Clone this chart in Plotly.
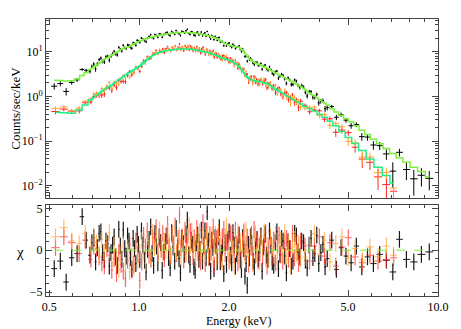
import numpy as np
import plotly.graph_objects as go
from plotly.subplots import make_subplots

# pn (black) spectrum: bin centres (keV), model (cts/s/keV), rel. error (%), chi residual
pn_e = [0.52, 0.545, 0.57, 0.595, 0.62, 0.645, 0.665, 0.685, 0.695, 0.705,
        0.715, 0.725, 0.735, 0.745, 0.755, 0.765, 0.775, 0.785, 0.795, 0.805,
        0.815, 0.825, 0.835, 0.845, 0.855, 0.865, 0.875, 0.885, 0.895, 0.905,
        0.915, 0.925, 0.935, 0.945, 0.955, 0.965, 0.975, 0.985, 0.995, 1.005,
        1.018, 1.03, 1.043, 1.055, 1.068, 1.08, 1.093, 1.105, 1.118, 1.13,
        1.143, 1.155, 1.168, 1.18, 1.195, 1.21, 1.225, 1.24, 1.255, 1.27,
        1.285, 1.30, 1.315, 1.33, 1.345, 1.36, 1.375, 1.39, 1.405, 1.42,
        1.435, 1.45, 1.465, 1.48, 1.495, 1.51, 1.525, 1.54, 1.555, 1.57,
        1.585, 1.60, 1.615, 1.63, 1.645, 1.66, 1.675, 1.69, 1.705, 1.72,
        1.735, 1.75, 1.765, 1.78, 1.795, 1.81, 1.825, 1.84, 1.855, 1.87,
        1.885, 1.90, 1.92, 1.94, 1.96, 1.98, 2.00, 2.02, 2.04, 2.06,
        2.08, 2.10, 2.12, 2.14, 2.16, 2.18, 2.20, 2.22, 2.24, 2.26,
        2.28, 2.30, 2.32, 2.34, 2.36, 2.38, 2.405, 2.43, 2.455, 2.48,
        2.505, 2.53, 2.555, 2.58, 2.61, 2.64, 2.67, 2.70, 2.73, 2.76,
        2.79, 2.82, 2.855, 2.89, 2.925, 2.96, 2.995, 3.03, 3.07, 3.11,
        3.15, 3.19, 3.23, 3.27, 3.315, 3.36, 3.405, 3.45, 3.50, 3.55,
        3.60, 3.65, 3.705, 3.76, 3.815, 3.87, 3.93, 3.99, 4.055, 4.12,
        4.19, 4.26, 4.41, 4.57, 4.74, 4.92, 5.12, 5.33, 5.56, 5.81,
        6.08, 6.38, 6.72, 7.06, 7.43, 7.84, 8.30, 8.80, 9.35]
pn_model = [2.30, 2.26, 2.22, 2.25, 2.45, 2.95, 3.45, 3.95, 4.25, 4.55,
            4.85, 5.2, 5.55, 5.9, 6.3, 6.7, 7.05, 7.4, 7.8, 8.2,
            8.6, 9.0, 9.5, 10.0, 10.45, 10.9, 11.35, 11.8, 12.1, 12.4,
            12.7, 13.0, 13.5, 14.0, 14.5, 15.0, 15.6, 16.2, 16.75, 17.3,
            17.9, 18.5, 19.0, 19.5, 20.0, 20.5, 20.9, 21.3, 21.7, 22.1,
            22.5, 22.9, 23.25, 23.6, 24.0, 24.4, 24.75, 25.1, 25.35, 25.6,
            25.8, 26.0, 26.2, 26.4, 26.5, 26.6, 26.7, 26.8, 26.85, 26.9,
            26.9, 26.9, 26.8, 26.7, 26.55, 26.4, 26.2, 26.0, 25.75, 25.5,
            25.25, 25.0, 24.7, 24.4, 24.05, 23.7, 23.4, 23.1, 22.8, 22.5,
            22.15, 21.8, 21.4, 21.0, 20.5, 20.0, 19.5, 19.0, 18.4, 17.8,
            17.2, 16.6, 15.9, 15.3, 14.8, 14.4, 14.1, 13.8, 13.55, 13.3,
            13.15, 13.0, 12.85, 12.7, 12.4, 12.0, 11.4, 10.8, 10.1, 9.4,
            8.7, 8.0, 7.5, 7.0, 6.6, 6.3, 6.05, 5.8, 5.6, 5.4,
            5.25, 5.1, 4.97, 4.85, 4.67, 4.5, 4.32, 4.15, 3.97, 3.8,
            3.65, 3.5, 3.35, 3.2, 3.07, 2.95, 2.85, 2.75, 2.62, 2.5,
            2.4, 2.3, 2.2, 2.1, 2.0, 1.9, 1.8, 1.7, 1.6, 1.5,
            1.4, 1.3, 1.21, 1.12, 1.06, 1.0, 0.93, 0.87, 0.81, 0.75,
            0.69, 0.64, 0.53, 0.45, 0.38, 0.32, 0.27, 0.22, 0.175, 0.14,
            0.11, 0.087, 0.068, 0.053, 0.042, 0.034, 0.026, 0.021, 0.016]
pn_err = [12, 11, 11, 10, 10, 9, 9, 11, 11, 11,
          11, 10, 10, 10, 9.5, 9.5, 9, 9, 9, 8.5,
          8.5, 8.5, 8, 8, 8, 7.5, 7.5, 7.5, 7, 7,
          7, 7, 7, 6.5, 6.5, 6.5, 6.5, 6, 6, 6,
          6, 5.5, 5.5, 5.5, 5.5, 5.5, 5.5, 5, 5, 5,
          5, 5, 5, 5, 5, 5, 5, 5, 5, 5,
          5, 5, 5, 5, 5, 5, 5, 5, 5, 5,
          5, 5, 5, 5, 5, 5, 5, 5, 5, 5,
          5, 5, 5, 5, 5, 5, 5, 5, 5, 5,
          5, 5, 5, 5, 5, 5, 5, 5, 5, 5,
          5, 5, 5, 5, 5, 5, 5, 5, 5, 5,
          5, 5, 5, 5, 5, 5, 5, 5, 5, 5.5,
          5.5, 5.5, 5.5, 6, 6, 6, 6, 6, 6, 6,
          6, 6, 6, 6.5, 6.5, 6.5, 6.5, 6.5, 7, 7,
          7, 7, 7, 7, 7.5, 7.5, 7.5, 7.5, 8, 8,
          8, 8, 8.5, 8.5, 8.5, 9, 9, 9, 9.5, 9.5,
          9.5, 10, 10, 10, 10.5, 10.5, 11, 11, 11.5, 11.5,
          11.5, 12, 10, 10.5, 11, 11.5, 12, 13, 14, 15,
          16, 18, 20, 23, 26, 29, 32, 36, 42]
pn_chi = [-2.2, -1.3, -3.8, -0.9, -0.4, 4.0, 1.2, -0.6, 0.9, 1.5,
          -1.4, 0.3, 2.0, 2.2, -0.3, -1.2, 1.1, 0.8, -1.9, -0.3,
          0.6, 1.6, -0.8, -1.8, 2.5, 0.5, -1.1, 2.4, 0.2, -0.7,
          1.7, 1.1, -0.9, -2.3, 1.4, 0.2, -1.6, 1.9, 0.7, -1.1,
          2.3, 0.6, -1.2, -2.6, 0.1, 1.3, 2.8, -0.4, -1.8, 2.0,
          0.5, -1.5, 1.6, 0.9, -2.4, -0.2, 1.0, 1.7, -0.9, -2.1,
          2.1, 0.4, -1.3, 2.6, 0.3, -1.0, -2.7, 1.4, 0.8, -0.5,
          1.9, 3.6, -0.6, -1.7, 1.2, 0.7, -2.0, -2.4, 0.9, 1.8,
          -1.1, 0.1, 2.4, -1.3, 0.6, 2.3, -0.9, 4.6, 1.1, -0.8,
          -2.5, 1.2, 0.3, -2.2, 1.5, 0.5, -1.4, 1.6, 2.7, -1.4,
          -0.3, 0.3, -2.8, 0.9, -1.7, 1.0, 2.2, -0.6, -1.5, 2.1,
          0.6, -1.9, -0.4, 0.4, 1.8, -1.2, -2.3, 1.5, 0.2, -3.1,
          -1.6, -4.2, 0.7, -0.9, 1.6, 0.8, -1.3, -2.0, 0.5, 1.3,
          -1.0, -0.3, 1.7, -2.5, 0.4, 1.9, -0.6, -1.1, 2.3, 0.6,
          -1.4, -1.8, 0.9, 2.2, -2.2, -0.5, 1.4, 1.1, -0.7, -2.7,
          1.0, 0.2, -1.9, -1.3, 2.0, 1.7, -0.2, -0.8, 1.1, 0.9,
          -1.2, -2.1, 0.6, 1.4, -0.9, -0.4, 1.8, -1.6, -0.3, 0.7,
          -2.0, -1.0, 1.2, -2.3, 0.3, -0.7, -1.5, 0.5, -2.0, -0.8,
          -1.6, -0.5, -1.2, -2.6, 1.3, -1.1, -1.4, -0.5, -0.2]

# MOS1 (red) and MOS2 (orange) spectra share one grid and model
mos_e = [0.525, 0.56, 0.595, 0.63, 0.66, 0.69, 0.705, 0.72, 0.735, 0.75,
         0.765, 0.78, 0.795, 0.81, 0.825, 0.84, 0.855, 0.87, 0.885, 0.90,
         0.915, 0.93, 0.945, 0.96, 0.975, 0.99, 1.005, 1.02, 1.035, 1.05,
         1.065, 1.08, 1.095, 1.11, 1.125, 1.14, 1.155, 1.17, 1.185, 1.20,
         1.215, 1.23, 1.245, 1.26, 1.275, 1.29, 1.305, 1.32, 1.335, 1.35,
         1.365, 1.38, 1.395, 1.41, 1.425, 1.44, 1.455, 1.47, 1.485, 1.50,
         1.515, 1.53, 1.545, 1.56, 1.575, 1.59, 1.605, 1.62, 1.635, 1.65,
         1.665, 1.68, 1.695, 1.71, 1.725, 1.74, 1.755, 1.77, 1.785, 1.80,
         1.815, 1.83, 1.845, 1.86, 1.88, 1.90, 1.92, 1.94, 1.96, 1.98,
         2.00, 2.02, 2.04, 2.06, 2.08, 2.10, 2.12, 2.14, 2.16, 2.18,
         2.20, 2.22, 2.24, 2.26, 2.28, 2.30, 2.325, 2.35, 2.375, 2.40,
         2.425, 2.45, 2.475, 2.50, 2.53, 2.56, 2.59, 2.62, 2.65, 2.68,
         2.715, 2.75, 2.785, 2.82, 2.86, 2.90, 2.94, 2.98, 3.025, 3.07,
         3.115, 3.16, 3.21, 3.26, 3.31, 3.36, 3.415, 3.47, 3.59, 3.72,
         3.86, 4.01, 4.17, 4.35, 4.55, 4.77, 5.01, 5.28, 5.58, 5.92,
         6.30, 6.72, 7.10]
mos_model = [0.44, 0.43, 0.42, 0.50, 0.64, 0.84, 0.94, 1.05, 1.17, 1.30,
             1.42, 1.55, 1.67, 1.80, 1.97, 2.15, 2.35, 2.55, 2.77, 3.0,
             3.22, 3.45, 3.7, 3.95, 4.22, 4.5, 4.85, 5.2, 5.65, 6.1,
             6.7, 7.3, 7.75, 8.2, 8.6, 9.0, 9.3, 9.6, 9.85, 10.1,
             10.3, 10.5, 10.65, 10.8, 10.9, 11.0, 11.1, 11.2, 11.3, 11.4,
             11.45, 11.5, 11.55, 11.6, 11.6, 11.6, 11.55, 11.5, 11.4, 11.3,
             11.2, 11.1, 11.0, 10.9, 10.75, 10.6, 10.45, 10.3, 10.15, 10.0,
             9.85, 9.7, 9.55, 9.4, 9.25, 9.1, 8.95, 8.8, 8.6, 8.4,
             8.2, 8.0, 7.8, 7.6, 7.4, 7.2, 7.05, 6.9, 6.75, 6.6,
             6.45, 6.3, 6.1, 5.9, 5.65, 5.4, 5.15, 4.9, 4.6, 4.3,
             4.0, 3.7, 3.4, 3.1, 2.9, 2.7, 2.55, 2.4, 2.35, 2.3,
             2.26, 2.22, 2.18, 2.15, 2.12, 2.1, 2.06, 2.02, 1.97, 1.93,
             1.84, 1.75, 1.65, 1.55, 1.46, 1.38, 1.3, 1.23, 1.16, 1.10,
             1.04, 0.98, 0.92, 0.87, 0.82, 0.77, 0.72, 0.68, 0.60, 0.53,
             0.47, 0.40, 0.34, 0.28, 0.22, 0.165, 0.12, 0.088, 0.062, 0.040,
             0.026, 0.017, 0.0115]
mos_err = [14, 13, 13, 12, 11, 10, 13, 12.5, 12, 11.5,
           11, 10.5, 10.5, 10, 9.5, 9.5, 9, 9, 8.5, 8.5,
           8, 8, 8, 7.5, 7.5, 7.5, 7, 7, 7, 7,
           7, 7, 7, 7, 7, 7, 7, 7, 7, 7,
           7, 7, 7, 7, 7, 7, 7, 7, 7, 7,
           7, 7, 7, 7, 7, 7, 7, 7, 7, 7,
           7, 7, 7, 7, 7, 7, 7, 7, 7, 7,
           7, 7, 7, 7, 7, 7, 7, 7, 7, 7,
           7, 7, 7, 7, 7, 7, 7, 7, 7, 7,
           7, 7, 7, 7.5, 7.5, 7.5, 7.5, 8, 8, 8.5,
           8.5, 9, 9, 9.5, 9.5, 9.5, 9.5, 9.5, 9.5, 9.5,
           9.5, 9.5, 9.5, 9.5, 9.5, 9.5, 9.5, 10, 10, 10,
           10, 10.5, 10.5, 10.5, 11, 11, 11, 11.5, 11.5, 12,
           12, 12, 12.5, 12.5, 13, 13, 13.5, 13.5, 10.5, 11,
           11.5, 12, 13, 14, 15, 17, 19, 21, 24, 27,
           30, 34, 38]
mos1_chi = [0.3, 1.6, 0.9, -0.4, 1.2, -1.1, 0.5, 0.2, -0.8, -1.5,
            -1.9, 0.2, -0.6, -2.4, -1.0, -2.8, -0.3, -1.7, -2.5, -3.4,
            -1.2, 0.6, -2.2, -1.7, 1.1, -0.5, -3.6, -1.4, 1.8, 0.4,
            2.3, -0.6, -1.1, 1.5, 0.9, 2.7, -0.2, 1.3, 0.1, 2.0,
            -1.0, 1.7, 3.1, 0.5, -0.7, 1.9, 0.8, 2.9, -0.4, 1.4,
            4.2, 0.3, 1.6, -1.2, 2.4, 0.6, 1.8, -0.5, 2.2, 0.9,
            -0.8, 1.5, 0.2, 2.6, -0.3, 1.0, -1.4, 1.7, 3.3, 0.4,
            -1.6, 2.3, 0.7, -0.9, 1.9, -0.2, 1.2, 2.8, -1.8, 0.8,
            1.4, -0.7, 2.1, 0.5, -1.1, 1.6, 2.5, -0.4, 0.9, 1.3,
            -1.3, 2.0, 0.1, 1.1, -0.6, 2.4, 0.7, -1.5, 1.8, 0.3,
            -0.9, 1.2, 2.2, -0.2, 0.6, 1.6, -1.7, 0.4, 1.9, -0.5,
            2.5, -0.6, 1.1, -1.3, 0.5, 1.6, -0.7, 0.9, 2.1, -1.9,
            0.4, 1.5, -0.8, 1.2, -1.5, 0.6, 1.8, -0.6, -1.3, 0.9,
            1.4, -1.1, 0.2, 2.0, -0.9, 0.7, -1.6, 1.1, 0.5, -1.3,
            0.5, 1.6, -0.7, 0.9, -1.9, 0.4, 1.5, -0.8, -1.5, -0.6,
            -1.3, -1.1, -0.9]
mos2_chi = [1.6, 2.7, 1.1, 0.8, 2.0, 0.4, 1.7, 0.9, -0.5, 1.3,
            -0.2, 0.9, 2.1, -1.5, 0.6, -0.9, -2.3, -0.4, 0.7, -1.8,
            0.3, -2.6, -0.7, -2.1, 0.8, -1.3, -0.3, 1.2, -0.1, -1.6,
            1.6, 0.5, -0.9, 2.1, 0.3, 1.4, -0.6, 2.4, 0.7, -0.3,
            1.1, 0.0, 2.2, 1.0, -0.5, 1.8, 0.4, 2.6, -0.2, 0.9,
            1.7, -0.9, 1.3, 0.2, 2.0, -0.4, 1.4, 3.0, 0.6, 2.3,
            -0.1, 0.8, -1.1, 1.6, 0.5, 2.2, 0.0, -0.9, 1.8, 0.6,
            -0.4, 1.5, 2.3, -0.6, 1.0, -0.3, 1.7, -1.2, 0.6, 1.9,
            -0.8, 0.7, 2.0, -0.5, 1.2, -1.4, 0.8, 1.6, 2.9, -0.3,
            0.5, -1.0, 1.9, 0.2, -2.0, 1.3, 0.4, 2.1, -0.7, 1.0,
            -1.2, 0.6, 1.7, -0.5, 2.4, 0.1, -0.8, 1.5, 0.3, -1.6,
            1.1, 2.0, -0.4, 0.8, -1.3, 1.4, 0.2, 2.2, -0.9, 0.6,
            -1.1, 1.6, 0.3, -0.6, 1.9, -1.4, 0.7, 1.2, -0.5, 2.1,
            -0.7, 0.9, -1.8, 0.4, 1.3, -0.4, 0.8, -1.0, -0.8, 0.7,
            2.0, -0.5, 1.2, -1.4, 0.8, 1.6, -0.9, 0.2, -1.2, 0.4,
            -0.8, 0.5, -0.6]

x_ticks = [0.5, 1.0, 2.0, 5.0, 10.0]
x_ticktext = ["0.5", "1.0", "2.0", "5.0", "10.0"]
x_minor = [0.6, 0.7, 0.8, 0.9, 1.2, 1.4, 1.6, 1.8, 3, 4, 6, 7, 8, 9]
y_ticks = [0.01, 0.1, 1, 10]
y_ticktext = ["10<sup>\u22122</sup>", "10<sup>\u22121</sup>", "10<sup>0</sup>", "10<sup>1</sup>"]
y_minor = [m * d for d in (0.001, 0.01, 0.1, 1, 10) for m in range(2, 10)]

BLACK = "#000000"
RED = "#ff2424"
ORANGE = "#ffa030"
PN_MODEL = "#7cf03c"
MOS_MODEL = "#22ee88"
FRAME = "#444444"
SERIF = "Liberation Serif, Times New Roman, Times, serif"


def half_widths(e):
    e = np.asarray(e, dtype=float)
    mid = np.sqrt(e[:-1] * e[1:])
    lo = np.concatenate([[e[0] ** 2 / mid[0]], mid])
    hi = np.concatenate([mid, [e[-1] ** 2 / mid[-1]]])
    return e - lo, hi - e


fig = make_subplots(rows=2, cols=1, shared_xaxes=True)


def add_spectrum(e, model, err, chi, color, res_opacity):
    n = min(len(e), len(model), len(err), len(chi))
    e = np.asarray(e[:n], dtype=float)
    model = np.asarray(model[:n], dtype=float)
    sig = model * np.asarray(err[:n], dtype=float) / 100.0
    chi = np.asarray(chi[:n], dtype=float)
    rate = model + chi * sig
    lo, hi = half_widths(e)
    fig.add_trace(go.Scatter(
        x=e, y=rate, mode="markers", marker=dict(size=1, color=color),
        error_y=dict(type="data", array=sig, thickness=1, width=0, color=color),
        error_x=dict(type="data", symmetric=False, array=hi, arrayminus=lo,
                     thickness=1, width=0, color=color)), row=1, col=1)
    fig.add_trace(go.Scatter(
        x=e, y=chi, mode="markers", marker=dict(size=1, color=color),
        opacity=res_opacity,
        error_y=dict(type="constant", value=1, thickness=1.2, width=0, color=color),
        error_x=dict(type="data", symmetric=False, array=hi, arrayminus=lo,
                     thickness=1, width=0, color=color)), row=2, col=1)


add_spectrum(pn_e, pn_model, pn_err, pn_chi, BLACK, 0.9)
add_spectrum(mos_e, mos_model, mos_err, mos1_chi, RED, 0.7)
add_spectrum(mos_e, mos_model, mos_err, mos2_chi, ORANGE, 0.7)

# models as step lines
fig.add_trace(go.Scatter(x=pn_e, y=pn_model, mode="lines", line_shape="hvh",
                         line=dict(color=PN_MODEL, width=1.5)), row=1, col=1)
fig.add_trace(go.Scatter(x=mos_e, y=mos_model, mode="lines", line_shape="hvh",
                         line=dict(color=MOS_MODEL, width=1.5)), row=1, col=1)
fig.add_trace(go.Scatter(x=[pn_e[0], pn_e[-1]], y=[0, 0], mode="lines",
                         line=dict(color=PN_MODEL, width=1, dash="dash")), row=2, col=1)

axis_common = dict(showline=True, linecolor=FRAME, linewidth=1, mirror="allticks",
                   ticks="inside", tickcolor=FRAME, showgrid=False, zeroline=False)
xaxis_common = dict(type="log", range=[np.log10(0.488), 1.0], tickvals=x_ticks,
                    ticktext=x_ticktext, ticklen=6,
                    minor=dict(tickvals=x_minor, ticks="inside", ticklen=3,
                               tickcolor=FRAME, showgrid=False), **axis_common)

# the page body adds an 8px offset, so margins are shifted to compensate
fig.update_layout(
    width=461, height=329,
    margin=dict(l=38, r=31, t=7, b=41),
    paper_bgcolor="white", plot_bgcolor="white",
    showlegend=False,
    font=dict(family=SERIF, size=12, color="black"),
    xaxis=dict(showticklabels=False, **xaxis_common),
    xaxis2=dict(showticklabels=True, **xaxis_common),
    yaxis=dict(domain=[0.352, 1.0], type="log",
               range=[np.log10(0.0052), np.log10(54)],
               tickvals=y_ticks, ticktext=y_ticktext, ticklen=6,
               minor=dict(tickvals=y_minor, ticks="inside", ticklen=3,
                          tickcolor=FRAME, showgrid=False), **axis_common),
    yaxis2=dict(domain=[0.0, 0.327], range=[-5.47, 5.35],
                tickvals=[-5, 0, 5], ticktext=["\u22125", "0", "5"], ticklen=6,
                minor=dict(dtick=1, ticks="inside", ticklen=3,
                           tickcolor=FRAME, showgrid=False), **axis_common),
    annotations=[
        dict(text="Energy (keV)", xref="paper", yref="paper", x=0.49, y=-0.092,
             showarrow=False, yanchor="middle", font=dict(size=12)),
        dict(text="Counts/sec/keV", xref="paper", yref="paper", x=-0.0765, y=0.676,
             textangle=-90, showarrow=False, xanchor="center", yanchor="middle",
             font=dict(size=13)),
        dict(text="\u03c7", xref="paper", yref="paper", x=-0.066, y=0.16,
             showarrow=False, xanchor="center", yanchor="middle", font=dict(size=15)),
    ],
)

fig.write_html("out.html")
